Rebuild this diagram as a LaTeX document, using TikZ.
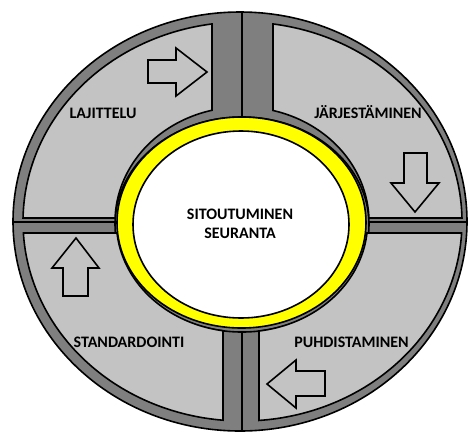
\documentclass[tikz,border=0pt]{standalone}
\usepackage{fontspec}
\setmainfont{Carlito}
\definecolor{bandgray}{HTML}{7F7F7F}
\definecolor{panelgray}{HTML}{C3C3C3}
\definecolor{ringyellow}{HTML}{FFFF00}
\tikzset{
  outline/.style={draw=black, line width=1.6pt},
  panel/.style={fill=panelgray, draw=black, line width=1.6pt, line join=miter},
  blockarrow/.style={fill=panelgray, draw=black, line width=1.6pt, line join=miter},
  phase/.style={font=\bfseries\fontsize{16}{19}\selectfont, text=black, inner sep=0pt, anchor=base}
}
\begin{document}
\begin{tikzpicture}[x=1pt,y=-1pt]
\useasboundingbox (0,0) rectangle (468,432);

% outer ring of the wheel
\def\ocx{240}\def\ocy{221.5}\def\orx{227}\def\ory{209.5}
% outer edge of the light panels
\def\pcx{242.5}\def\pcy{221.5}\def\prx{219.5}\def\pry{199.5}
% inner edge of the upper panels
\def\ucx{242}\def\ucy{222}\def\urx{127}\def\ury{115}
% inner edge of the lower panels
\def\lcx{242}\def\lcy{222}\def\lrx{125.6}\def\lry{110}

% dark wheel body
\draw[outline, fill=bandgray] (\ocx,\ocy) ellipse [x radius=\orx, y radius=\ory];
\draw[outline] (242,224.5) ellipse [x radius=127, y radius=107.5];

% quadrant dividers
\coordinate (vtop) at (242,12);
\coordinate (vtopin) at (242,117);
\coordinate (vbotin) at (242,332);
\coordinate (vbot) at (242,431);
\coordinate (hleft) at (13,222);
\coordinate (hleftin) at (115,222);
\coordinate (hrightin) at (369,222);
\coordinate (hright) at (467,222);
\draw[outline] (vtop) -- (vtopin);
\draw[outline] (vbotin) -- (vbot);
\draw[outline] (hleft) -- (hleftin);
\draw[outline] (hrightin) -- (hright);

% upper left panel
\pgfmathsetmacro\aA{360-acos((212-\pcx)/\prx)}
\pgfmathsetmacro\aB{180-asin((218-\pcy)/\pry)}
\pgfmathsetmacro\aC{180-asin((218-\ucy)/\ury)}
\pgfmathsetmacro\aD{360-acos((212-\ucx)/\urx)}
\draw[panel] plot[domain=\aA:\aB, samples=70] ({\pcx+\prx*cos(\x)},{\pcy+\pry*sin(\x)})
  -- plot[domain=\aC:\aD, samples=50] ({\ucx+\urx*cos(\x)},{\ucy+\ury*sin(\x)}) -- cycle;

% upper right panel
\pgfmathsetmacro\aA{360-acos((273-\pcx)/\prx)}
\pgfmathsetmacro\aB{360+asin((218-\pcy)/\pry)}
\pgfmathsetmacro\aC{360+asin((218-\ucy)/\ury)}
\pgfmathsetmacro\aD{360-acos((273-\ucx)/\urx)}
\draw[panel] plot[domain=\aA:\aB, samples=70] ({\pcx+\prx*cos(\x)},{\pcy+\pry*sin(\x)})
  -- plot[domain=\aC:\aD, samples=50] ({\ucx+\urx*cos(\x)},{\ucy+\ury*sin(\x)}) -- cycle;

% lower left panel
\pgfmathsetmacro\aA{180-asin((233-\pcy)/\pry)}
\pgfmathsetmacro\aB{acos((223-\pcx)/\prx)}
\pgfmathsetmacro\aC{acos((223-\lcx)/\lrx)}
\pgfmathsetmacro\aD{180-asin((233-\lcy)/\lry)}
\draw[panel] plot[domain=\aA:\aB, samples=70] ({\pcx+\prx*cos(\x)},{\pcy+\pry*sin(\x)})
  -- plot[domain=\aC:\aD, samples=50] ({\lcx+\lrx*cos(\x)},{\lcy+\lry*sin(\x)}) -- cycle;

% lower right panel
\pgfmathsetmacro\aA{asin((233-\pcy)/\pry)}
\pgfmathsetmacro\aB{acos((259-\pcx)/\prx)}
\pgfmathsetmacro\aC{acos((259-\lcx)/\lrx)}
\pgfmathsetmacro\aD{asin((233-\lcy)/\lry)}
\draw[panel] plot[domain=\aA:\aB, samples=70] ({\pcx+\prx*cos(\x)},{\pcy+\pry*sin(\x)})
  -- plot[domain=\aC:\aD, samples=50] ({\lcx+\lrx*cos(\x)},{\lcy+\lry*sin(\x)}) -- cycle;

% block arrows showing the cycle direction
\draw[blockarrow] (148,60) -- (176,60) -- (176,48) -- (207,72) -- (176,96) -- (176,83) -- (148,83) -- cycle;
\draw[blockarrow] (404,153) -- (427,153) -- (427,183) -- (439,183) -- (415,212) -- (391,183) -- (404,183) -- cycle;
\draw[blockarrow] (325,371) -- (296,371) -- (296,360) -- (267,384) -- (296,408) -- (296,396) -- (325,396) -- cycle;
\draw[blockarrow] (63,296) -- (63,268) -- (52,268) -- (76,238) -- (99,268) -- (88,268) -- (88,296) -- cycle;

% yellow hub
\draw[outline, fill=ringyellow] (241.5,222.5) ellipse [x radius=124.5, y radius=105.5];
\draw[outline, fill=white] (241,224.5) ellipse [x radius=108, y radius=93.5];

% labels
\node[phase] (sort) at (103,118.5) {LAJITTELU};
\node[phase] (order) at (368,118.5) {JÄRJESTÄMINEN};
\node[phase] (standard) at (129,347.5) {STANDARDOINTI};
\node[phase] (clean) at (351.5,347.5) {PUHDISTAMINEN};
\node[phase] (hub1) at (240,219.5) {SITOUTUMINEN};
\node[phase] (hub2) at (240,238.5) {SEURANTA};
\end{tikzpicture}
\end{document}
